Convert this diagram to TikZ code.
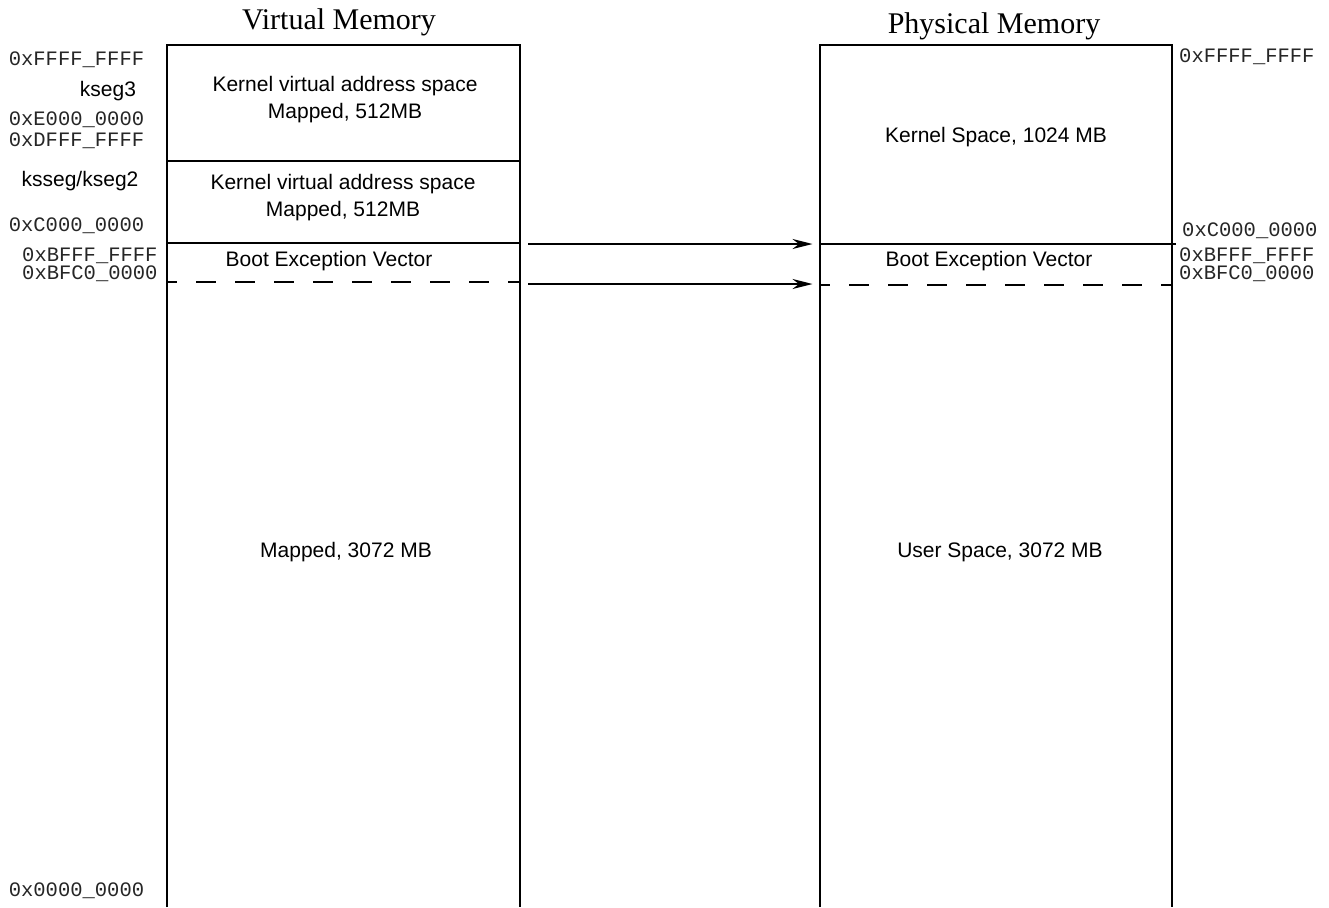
\documentclass[tikz,border=0pt]{standalone}
\usepackage{fontspec}
\setmainfont{Liberation Sans}
\newfontfamily\monofont{Liberation Mono}
\newfontfamily\titlefont{Liberation Serif}
\usetikzlibrary{arrows.meta}
\begin{document}
\begin{tikzpicture}[x=1pt,y=-1pt,
  mono/.style={font=\monofont\fontsize{20.5}{24}\selectfont, inner sep=0pt, anchor=base west, text=black!85},
  lbl/.style={font=\fontsize{21}{25}\selectfont, inner sep=0pt, anchor=base},
  ttl/.style={font=\titlefont\fontsize{30}{36}\selectfont, inner sep=0pt, anchor=base},
  edge/.style={line width=2pt},
  dashline/.style={line width=2pt, dash pattern=on 20pt off 19pt, dash phase=9.8pt},
  arr/.style={line width=2pt, -{Stealth[length=20pt,width=10pt]}}]
\useasboundingbox (0,0) rectangle (1329,907);

% titles
\node[ttl] (tv) at (339,30) {Virtual Memory};
\node[ttl] (tp) at (994,34) {Physical Memory};

% virtual memory box (open at bottom)
\draw[edge] (167,907) -- (167,45) -- (520,45) -- (520,907);
\draw[edge] (167,161) -- (520,161);
\draw[edge] (167,243) -- (520,243);
\draw[dashline] (167,282) -- (520,282);

% physical memory box (open at bottom)
\draw[edge] (820,907) -- (820,45) -- (1172,45) -- (1172,907);
\draw[edge] (820,244) -- (1176,244);
\draw[dashline] (820,285) -- (1172,285);

% left address labels
\node[mono] (va1) at (8.6,65) {0xFFFF\_FFFF};
\node[lbl]  (vk3) at (108,96) {kseg3};
\node[mono] (va2) at (8.6,125) {0xE000\_0000};
\node[mono] (va3) at (8.6,146.5) {0xDFFF\_FFFF};
\node[lbl]  (vk2) at (80,186.5) {ksseg/kseg2};
\node[mono] (va4) at (8.6,231) {0xC000\_0000};
\node[mono] (va5) at (22,261) {0xBFFF\_FFFF};
\node[mono] (va6) at (22,279.5) {0xBFC0\_0000};
\node[mono] (va7) at (8.6,896) {0x0000\_0000};

% virtual box texts
\node[lbl] (v1a) at (345,91) {Kernel virtual address space};
\node[lbl] (v1b) at (345,118) {Mapped, 512MB};
\node[lbl] (v2a) at (343,189) {Kernel virtual address space};
\node[lbl] (v2b) at (343,216) {Mapped, 512MB};
\node[lbl] (vbev) at (329,266) {Boot Exception Vector};
\node[lbl] (vmap) at (346,557) {Mapped, 3072 MB};

% physical box texts
\node[lbl] (pks) at (996,142) {Kernel Space, 1024 MB};
\node[lbl] (pbev) at (989,266.5) {Boot Exception Vector};
\node[lbl] (pus) at (1000,557) {User Space, 3072 MB};

% right address labels
\node[mono] (pa1) at (1179,63) {0xFFFF\_FFFF};
\node[mono] (pa2) at (1182,236) {0xC000\_0000};
\node[mono] (pa3) at (1179,261) {0xBFFF\_FFFF};
\node[mono] (pa4) at (1179,279.5) {0xBFC0\_0000};

% arrows
\coordinate (s1) at (528,244);
\coordinate (e1) at (812.5,244);
\coordinate (s2) at (528,284);
\coordinate (e2) at (812.5,284);
\draw[arr] (s1) -- (e1);
\draw[arr] (s2) -- (e2);
\end{tikzpicture}
\end{document}
